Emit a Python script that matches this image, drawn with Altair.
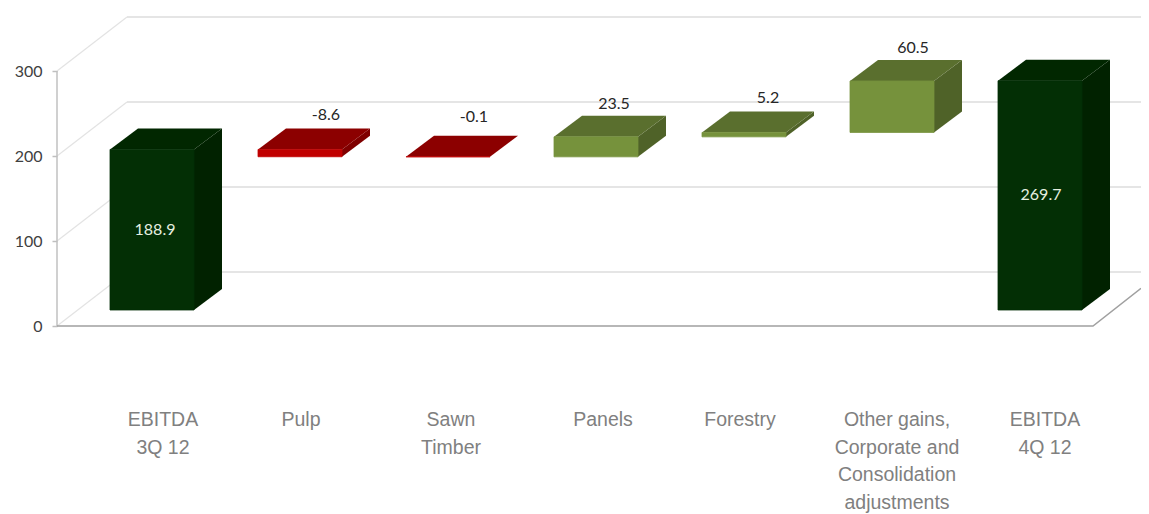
import altair as alt
import pandas as pd

categories = ["EBITDA\n3Q 12", "Pulp", "Sawn\nTimber", "Panels", "Forestry",
              "Other gains,\nCorporate and\nConsolidation\nadjustments", "EBITDA\n4Q 12"]
changes = [188.9, -8.6, -0.1, 23.5, 5.2, 60.5, 269.7]
kinds = ["total", "down", "down", "up", "up", "up", "total"]
ticks = [0, 100, 200, 300]

# Screen calibration of the reference: pixels per unit on each scale
PX_X = 148.0          # one category step
PX_Y = 0.85           # one unit of value
W, H = 1133, 506      # page is 8px margin, plot fills the rest
LEFT, ZERO_Y = 152.0, 326.0  # reference page position of category 0 / value 0

x_dom = [(8 - LEFT) / PX_X, (8 + W - LEFT) / PX_X]
y_dom = [(ZERO_Y - (8 + H)) / PX_Y, (ZERO_Y - 8) / PX_Y]

half = 42 / PX_X       # half bar width
dep_x = 28 / PX_X      # bar depth
dep_y = 21 / PX_Y
base = 16 / PX_Y       # bars stand forward of the back wall, raised on the floor
wall_x0 = (57 - LEFT) / PX_X
wall_x1 = (127 - LEFT) / PX_X
wall_dy = 54 / PX_Y
floor_x1 = (1093 - LEFT) / PX_X
floor_slope = (44 / PX_Y) / ((1149 - 1093) / PX_X)
x_end = x_dom[1]
floor_dy = floor_slope * (x_end - floor_x1)

colors = {
    "total": ("#032f05", "#012700", "#012200"),
    "up": ("#76923c", "#5a6f2e", "#4f6228"),
    "down": ("#c00000", "#8c0000", "#7f0000"),
}

# waterfall levels
lows, highs = [], []
level = 0.0
for i, (c, k) in enumerate(zip(changes, kinds)):
    if k == "total":
        lo, hi = 0.0, c
        level = c
    else:
        lo, hi = sorted([level, level + c])
        level += c
    lows.append(lo)
    highs.append(hi)

X = alt.X("x:Q", scale=alt.Scale(domain=x_dom, nice=False, zero=False), axis=None)
Y = alt.Y("y:Q", scale=alt.Scale(domain=y_dom, nice=False, zero=False),
          axis=alt.Axis(values=ticks, offset=-49, domain=False, grid=False, title=None,
                        tickColor="#bfbfbf", tickSize=5, tickWidth=1.5, labelFont="Lato",
                        labelFontSize=16, labelColor="#404040", labelPadding=10))

# --- walls ---
grid_rows, conn_rows = [], []
for t in ticks:
    grid_rows += [{"x": wall_x1, "y": t + wall_dy, "g": t}, {"x": x_end, "y": t + wall_dy, "g": t}]
    conn_rows += [{"x": wall_x0, "y": t, "g": t}, {"x": wall_x1, "y": t + wall_dy, "g": t}]
grid = alt.Chart(pd.DataFrame(grid_rows)).mark_line(color="#dcdcdc", strokeWidth=1.5).encode(
    x=X, y=Y, detail="g:N")
conn = alt.Chart(pd.DataFrame(conn_rows)).mark_line(color="#e3e3e3", strokeWidth=1.2).encode(
    x=X, y=Y, detail="g:N")
axis_line = alt.Chart(pd.DataFrame([{"x": wall_x0, "y": 0}, {"x": wall_x0, "y": 300}])).mark_line(
    color="#c0c0c0", strokeWidth=1.5).encode(x=X, y=Y)
floor = alt.Chart(pd.DataFrame([
    {"x": wall_x0, "y": 0}, {"x": floor_x1, "y": 0}, {"x": x_end, "y": floor_dy},
])).mark_line(color="#a0a0a0", strokeWidth=1.5).encode(x=X, y=Y)

# --- boxes ---
front_rows, side_rows, top_rows = [], [], []
for i, (lo, hi, k) in enumerate(zip(lows, highs, kinds)):
    f, t, s = colors[k]
    front_rows.append({"x": i - half, "x2": i + half, "y": lo + base, "y2": hi + base, "c": f})
    key = str(i)
    side_rows += [
        {"x": i + half, "y": lo + base, "y2": hi + base, "c": s, "k": key},
        {"x": i + half + dep_x, "y": lo + base + dep_y, "y2": hi + base + dep_y, "c": s, "k": key},
    ]
    top_rows += [
        {"y": hi + base, "x": i - half, "x2": i + half, "c": t, "k": key},
        {"y": hi + base + dep_y, "x": i - half + dep_x, "x2": i + half + dep_x, "c": t, "k": key},
    ]

C = alt.Color("c:N", scale=None)
S = alt.Stroke("c:N", scale=None)
front = alt.Chart(pd.DataFrame(front_rows)).mark_rect(strokeWidth=0.8).encode(
    x=X, x2="x2:Q", y=Y, y2="y2:Q", color=C, stroke=S)
side = alt.Chart(pd.DataFrame(side_rows)).mark_area(orient="vertical", interpolate="linear").encode(
    x=X, y=Y, y2="y2:Q", color=C, detail="k:N")
top = alt.Chart(pd.DataFrame(top_rows)).mark_area(orient="horizontal", interpolate="linear").encode(
    y=Y, x=X, x2="x2:Q", color=C, detail="k:N")

# --- value labels ---
label_dx = [3, 26, 26, 18, 24, 21, 1]      # px right of the bar centre
label_dy = [0, 13, 19, 12, 13, 12, 0]      # px above the back top edge
lab_rows = []
for i, (c, lo, hi, k) in enumerate(zip(changes, lows, highs, kinds)):
    if k == "total":
        y = (lo + hi) / 2 + base
    else:
        y = hi + base + dep_y + label_dy[i] / PX_Y
    lab_rows.append({"x": i + label_dx[i] / PX_X, "y": y, "t": f"{c:.1f}",
                     "c": "#e6efe0" if k == "total" else "#262626"})
labels = alt.Chart(pd.DataFrame(lab_rows)).mark_text(
    font="Lato", fontSize=16, baseline="middle", align="center").encode(
    x=X, y=Y, text="t:N", color=C)

# --- category labels ---
cat_dx = [11, 1, 3, 7, -4, 5, 5]
cat_y = (ZERO_Y - 411) / PX_Y
cat_rows = [{"x": i + cat_dx[i] / PX_X, "y": cat_y, "t": c} for i, c in enumerate(categories)]
cats = alt.Chart(pd.DataFrame(cat_rows)).mark_text(
    font="Liberation Sans", fontSize=19.5, baseline="top", align="center",
    lineBreak="\n", lineHeight=27.5, color="#808080").encode(x=X, y=Y, text="t:N")

chart = alt.layer(grid, conn, axis_line, floor, side, top, front, labels, cats).properties(
    width=W, height=H, padding=0, autosize=alt.AutoSizeParams(type="none"),
).configure_view(stroke=None)

chart.save("out.html", embed_options={"renderer": "svg", "actions": False})
